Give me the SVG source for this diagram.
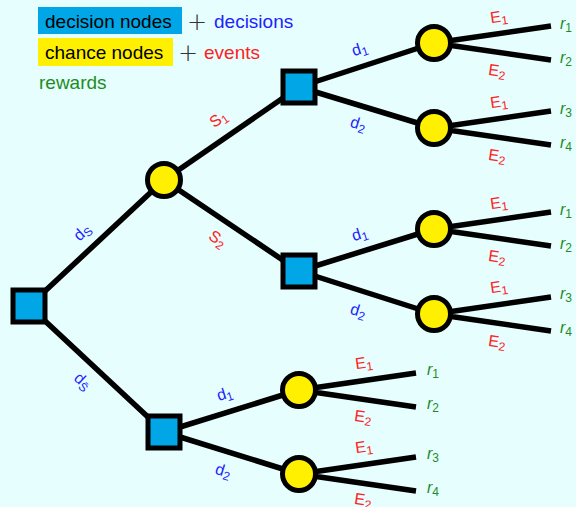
<svg xmlns="http://www.w3.org/2000/svg" width="576" height="507" viewBox="0 0 576 507">
<style>
text{font-family:"Liberation Sans","DejaVu Sans",sans-serif}
.leg{font-size:19px}
.plus{font-size:24px;fill:#333;text-anchor:middle;font-family:"DejaVu Sans",sans-serif;font-weight:200}
.lbl{font-size:16px;text-anchor:middle}
.sub{font-size:12px}
.dec{fill:#2222ff}
.ev{fill:#ff2222}
.rw{fill:#1e8c1e}
.r{font-size:16px;font-style:italic}
.edge{stroke:#000;stroke-width:5.5;fill:none}
.dn{fill:#00a6e6;stroke:#000;stroke-width:5}
.cn{fill:#fff000;stroke:#000;stroke-width:5}
</style>
<rect x="0" y="0" width="576" height="507" fill="#e6fefe"/>
<g id="legend">
<rect x="38" y="7" width="144" height="27" fill="#00a6e6"/>
<text class="leg" x="45" y="28" fill="#000">decision nodes</text>
<text class="plus" x="197" y="30">+</text>
<text class="leg dec" x="214" y="28">decisions</text>
<rect x="38" y="38" width="135" height="28" fill="#fff000"/>
<text class="leg" x="45" y="59" fill="#000">chance nodes</text>
<text class="plus" x="188" y="61">+</text>
<text class="leg ev" x="204" y="59">events</text>
<text class="leg rw" x="39" y="89">rewards</text>
</g>
<g id="connectors">
<path class="edge" d="M29 306L164 180M29 306L164 432M164 180L299 87M164 180L299 271"/>
<path class="edge" d="M299 87L434 43M299 87L434 128M299 271L434 229M299 271L434 314M164 432L299 390M164 432L299 474"/>
<path class="edge" d="M434 43L551 26M434 43L551 60M434 128L551 111M434 128L551 145M434 229L551 212M434 229L551 246M434 314L551 297M434 314L551 331"/>
<path class="edge" d="M299 390L416 373M299 390L416 407M299 474L416 457M299 474L416 491"/>
</g>
<g id="edge-labels">
<text class="lbl dec" transform="translate(83,233) rotate(-43)" y="4">d<tspan class="sub" dy="3">S</tspan></text>
<text class="lbl dec" transform="translate(82,382) rotate(43)" y="4">d<tspan class="sub" dy="3">S&#x0304;</tspan></text>
<text class="lbl ev" transform="translate(219,120) rotate(-35)" y="4">S<tspan class="sub" dy="3">1</tspan></text>
<text class="lbl ev" transform="translate(217,240) rotate(35)" y="4">S<tspan class="sub" dy="3">2</tspan></text>
<text class="lbl dec" transform="translate(360,50) rotate(-18)" y="4">d<tspan class="sub" dy="3">1</tspan></text>
<text class="lbl dec" transform="translate(358,125) rotate(17)" y="4">d<tspan class="sub" dy="3">2</tspan></text>
<text class="lbl dec" transform="translate(360,235) rotate(-18)" y="4">d<tspan class="sub" dy="3">1</tspan></text>
<text class="lbl dec" transform="translate(358,312) rotate(17)" y="4">d<tspan class="sub" dy="3">2</tspan></text>
<text class="lbl dec" transform="translate(225,395) rotate(-17)" y="4">d<tspan class="sub" dy="3">1</tspan></text>
<text class="lbl dec" transform="translate(223,472) rotate(17)" y="4">d<tspan class="sub" dy="3">2</tspan></text>
<text class="lbl ev" transform="translate(499,18) rotate(-8)" y="4">E<tspan class="sub" dy="3">1</tspan></text>
<text class="lbl ev" transform="translate(497,72) rotate(8)" y="4">E<tspan class="sub" dy="3">2</tspan></text>
<text class="lbl ev" transform="translate(499,103) rotate(-8)" y="4">E<tspan class="sub" dy="3">1</tspan></text>
<text class="lbl ev" transform="translate(497,157) rotate(8)" y="4">E<tspan class="sub" dy="3">2</tspan></text>
<text class="lbl ev" transform="translate(499,204) rotate(-8)" y="4">E<tspan class="sub" dy="3">1</tspan></text>
<text class="lbl ev" transform="translate(497,258) rotate(8)" y="4">E<tspan class="sub" dy="3">2</tspan></text>
<text class="lbl ev" transform="translate(499,288) rotate(-8)" y="4">E<tspan class="sub" dy="3">1</tspan></text>
<text class="lbl ev" transform="translate(497,343) rotate(8)" y="4">E<tspan class="sub" dy="3">2</tspan></text>
<text class="lbl ev" transform="translate(364,364) rotate(-8)" y="4">E<tspan class="sub" dy="3">1</tspan></text>
<text class="lbl ev" transform="translate(363,418) rotate(8)" y="4">E<tspan class="sub" dy="3">2</tspan></text>
<text class="lbl ev" transform="translate(364,448) rotate(-8)" y="4">E<tspan class="sub" dy="3">1</tspan></text>
<text class="lbl ev" transform="translate(363,501) rotate(8)" y="4">E<tspan class="sub" dy="3">2</tspan></text>
</g>
<g id="rewards">
<text class="r rw" x="560" y="29">r<tspan class="sub" dy="3" font-style="normal">1</tspan></text>
<text class="r rw" x="560" y="63">r<tspan class="sub" dy="3" font-style="normal">2</tspan></text>
<text class="r rw" x="560" y="114">r<tspan class="sub" dy="3" font-style="normal">3</tspan></text>
<text class="r rw" x="560" y="148">r<tspan class="sub" dy="3" font-style="normal">4</tspan></text>
<text class="r rw" x="560" y="215">r<tspan class="sub" dy="3" font-style="normal">1</tspan></text>
<text class="r rw" x="560" y="249">r<tspan class="sub" dy="3" font-style="normal">2</tspan></text>
<text class="r rw" x="560" y="299">r<tspan class="sub" dy="3" font-style="normal">3</tspan></text>
<text class="r rw" x="560" y="333">r<tspan class="sub" dy="3" font-style="normal">4</tspan></text>
<text class="r rw" x="427" y="375">r<tspan class="sub" dy="3" font-style="normal">1</tspan></text>
<text class="r rw" x="427" y="409">r<tspan class="sub" dy="3" font-style="normal">2</tspan></text>
<text class="r rw" x="427" y="459">r<tspan class="sub" dy="3" font-style="normal">3</tspan></text>
<text class="r rw" x="427" y="493">r<tspan class="sub" dy="3" font-style="normal">4</tspan></text>
</g>
<g id="root"><rect class="dn" x="13" y="290" width="32" height="32"/></g>
<g id="chance-S"><circle class="cn" cx="164" cy="180" r="16.5"/></g>
<g id="decision-S1"><rect class="dn" x="283" y="71" width="32" height="32"/></g>
<g id="decision-S2"><rect class="dn" x="283" y="255" width="32" height="32"/></g>
<g id="decision-Sbar"><rect class="dn" x="148" y="416" width="32" height="32"/></g>
<g id="chance-S1-d1"><circle class="cn" cx="434" cy="43" r="16.5"/></g>
<g id="chance-S1-d2"><circle class="cn" cx="434" cy="128" r="16.5"/></g>
<g id="chance-S2-d1"><circle class="cn" cx="434" cy="229" r="16.5"/></g>
<g id="chance-S2-d2"><circle class="cn" cx="434" cy="314" r="16.5"/></g>
<g id="chance-Sbar-d1"><circle class="cn" cx="299" cy="390" r="16.5"/></g>
<g id="chance-Sbar-d2"><circle class="cn" cx="299" cy="474" r="16.5"/></g>
</svg>
